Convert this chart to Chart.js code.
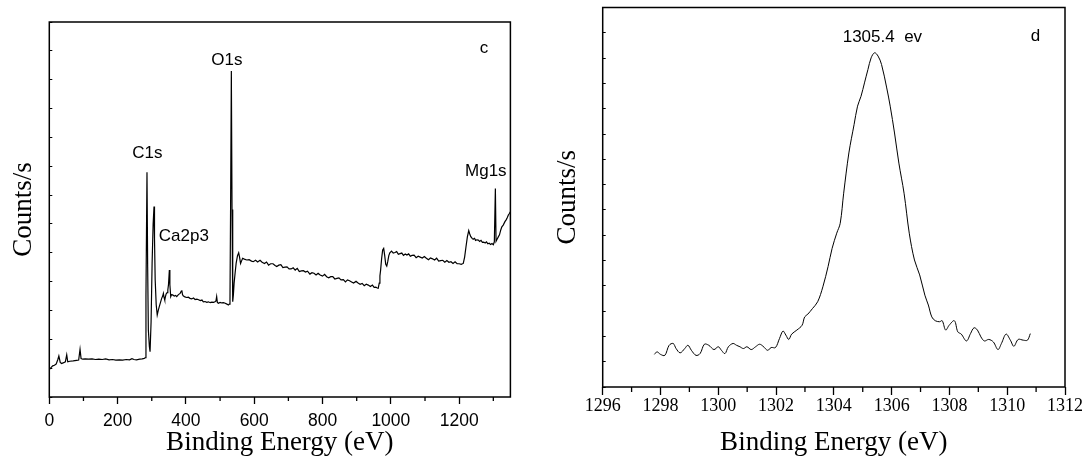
<!DOCTYPE html>
<html>
<head>
<meta charset="utf-8">
<script src="https://cdn.jsdelivr.net/npm/chart.js@4.4.1/dist/chart.umd.min.js"></script>
<style>
  html, body { margin: 0; padding: 0; background: #fff; }
  #wrap { position: relative; width: 1088px; height: 459px; overflow: hidden; }
  .panel { position: absolute; top: 0; width: 544px; height: 459px; }
  #p1 { left: 0; }
  #p2 { left: 544px; }
</style>
</head>
<body>
<div id="wrap">
  <div class="panel" id="p1"><canvas id="c1" width="544" height="459"></canvas></div>
  <div class="panel" id="p2"><canvas id="c2" width="544" height="459"></canvas></div>
</div>
<script>
// ---------- Panel c : survey spectrum ----------
const surveyEnergy = [
  0,5,10,15,20,25,28,32,36,42,47,51,54,60,70,80,86,90,93,98,
  105,115,125,135,145,155,165,175,185,195,205,215,225,235,242,248,255,265,272,278,
  281,283,286,288,290,293,295,298,301,304,306.6,308,310,313,316,319,322,326,329,332,
  334,336,338,340,342,345,347,349,351.5,353,355.5,358,361,366,370,373,378,383,386,388,
  390,392,397,402,407,412,417,422,427,432,437,442,447,451,456,461,466,471,476,481,
  485,488,490,492,495,500,505,510,515,520,524,527,529,531,533,535,537,539,541,544,
  547,551,554.5,557,560,563,566,571,578,585,592,597,604,610,617,623,630,636,642,648,
  655,661,666,672,678,684,690,696,702,708,714,720,726,732,738,744,750,756,763,769,
  775,781,787,793,800,806,812,818,824,830,836,842,848,854,861,867,873,879,885,891,
  898,904,910,916,922,928,934,940,946,951,956,960,963,966,968,970,973,976,979,982,
  985,988,991,994,997,1002,1007,1012,1017,1022,1027,1032,1037,1042,1047,1052,1057,1062,1068,1074,
  1080,1086,1092,1098,1104,1110,1116,1122,1128,1134,1140,1146,1152,1158,1164,1170,1176,1182,1188,1194,
  1200,1206,1212,1216,1220,1224,1228,1231,1234,1238,1241,1245,1248,1252,1256,1260,1264,1268,1272,1276,
  1280,1284,1288,1292,1296,1300,1303,1306,1308,1311,1315,1318,1322,1325,1329,1334,1338,1341,1344,1347,
  1350
];
const surveyCounts = [
  0.95,1.02,1.08,1.10,1.14,1.30,1.42,1.20,1.16,1.19,1.22,1.46,1.22,1.24,1.25,1.27,1.28,1.65,1.33,1.31,
  1.32,1.31,1.32,1.30,1.31,1.30,1.32,1.29,1.30,1.28,1.29,1.28,1.30,1.29,1.33,1.30,1.29,1.31,1.32,1.34,
  1.36,3.50,7.79,4.50,2.32,1.75,1.57,2.60,4.64,6.00,6.60,5.50,4.06,3.20,2.84,3.00,3.13,3.30,3.42,3.50,
  3.59,3.45,3.36,3.48,3.57,3.62,3.71,3.90,4.40,3.90,3.48,3.55,3.54,3.50,3.52,3.48,3.55,3.59,3.66,3.70,
  3.55,3.51,3.47,3.45,3.46,3.42,3.40,3.43,3.38,3.39,3.37,3.34,3.36,3.30,3.31,3.28,3.30,3.27,3.29,3.28,
  3.30,3.33,3.48,3.28,3.25,3.28,3.26,3.27,3.25,3.22,3.19,3.22,3.36,7.00,11.30,6.50,3.30,3.55,3.94,4.30,
  4.63,4.90,5.00,4.85,4.63,4.72,4.81,4.78,4.75,4.76,4.71,4.69,4.74,4.68,4.74,4.67,4.63,4.68,4.57,4.62,
  4.62,4.56,4.52,4.57,4.59,4.49,4.50,4.51,4.44,4.44,4.48,4.40,4.46,4.35,4.37,4.38,4.33,4.36,4.26,4.31,
  4.29,4.23,4.29,4.23,4.19,4.25,4.17,4.13,4.17,4.17,4.09,4.11,4.13,4.06,4.07,3.99,4.06,4.03,3.99,3.95,
  4.01,3.95,3.91,3.94,3.86,3.91,3.88,3.83,3.88,3.80,3.81,3.78,3.77,3.95,4.20,4.40,4.80,5.10,5.15,4.90,
  4.60,4.54,4.70,4.90,5.00,5.06,4.99,5.01,5.04,4.95,4.97,4.99,4.91,4.96,4.92,4.96,4.88,4.91,4.92,4.83,
  4.88,4.85,4.82,4.87,4.81,4.76,4.82,4.79,4.75,4.81,4.71,4.73,4.74,4.67,4.73,4.67,4.69,4.63,4.69,4.62,
  4.62,4.60,4.63,4.85,5.21,5.55,5.77,5.65,5.56,5.50,5.47,5.50,5.43,5.45,5.44,5.39,5.43,5.36,5.37,5.34,
  5.38,5.31,5.33,5.29,5.32,5.28,5.38,7.23,5.40,5.47,5.56,5.62,5.80,5.90,5.96,6.08,6.15,6.22,6.31,6.36,
  6.42
];
const surveyTickStep = 200;
const surveyMinorTicks = [100,300,500,700,900,1100,1300];
const surveyLabels = ['C1s','O1s','Ca2p3','Mg1s','c'];
const surveyLabelX = [287, 520, 394, 1278, 1273];
const surveyLabelY = [8.45, 11.66, 5.57, 7.84, 12.09];

// ---------- Panel d : Mg1s region ----------
const mgEnergy = [
  1297.79,1297.88,1298.00,1298.15,1298.30,1298.44,1298.54,1298.68,1298.84,1298.95,
  1299.07,1299.23,1299.37,1299.52,1299.67,1299.85,1300.00,1300.11,1300.23,1300.35,
  1300.51,1300.63,1300.75,1300.87,1300.99,1301.14,1301.29,1301.43,1301.55,1301.71,
  1301.83,1301.98,1302.12,1302.24,1302.34,1302.44,1302.54,1302.72,1302.90,1302.99,
  1303.10,1303.26,1303.44,1303.62,1303.80,1303.94,1304.10,1304.22,1304.34,1304.52,
  1304.70,1304.82,1304.94,1305.06,1305.18,1305.29,1305.41,1305.53,1305.65,1305.83,
  1305.95,1306.10,1306.25,1306.43,1306.61,1306.79,1306.97,1307.15,1307.27,1307.39,
  1307.51,1307.66,1307.75,1307.87,1307.99,1308.17,1308.29,1308.41,1308.59,1308.73,
  1308.85,1308.97,1309.09,1309.21,1309.36,1309.52,1309.68,1309.80,1309.96,1310.11,
  1310.23,1310.38,1310.56,1310.70,1310.80
];
const mgCounts = [
  1.29,1.39,1.29,1.25,1.65,1.72,1.52,1.35,1.52,1.65,
  1.45,1.25,1.32,1.69,1.65,1.48,1.59,1.45,1.32,1.59,
  1.72,1.65,1.59,1.52,1.59,1.48,1.59,1.69,1.61,1.45,
  1.56,1.56,1.92,2.21,2.05,1.88,2.09,2.25,2.44,2.77,
  2.88,3.10,3.37,3.96,4.76,5.48,6.08,6.47,7.66,9.25,
  10.37,11.10,11.49,12.02,12.55,13.01,13.21,13.08,12.75,11.82,
  11.10,10.04,8.85,7.66,6.08,5.02,4.43,3.63,3.24,2.77,
  2.62,2.58,2.62,2.25,2.44,2.62,2.18,2.09,1.82,2.11,
  2.34,2.25,1.98,1.82,1.88,1.78,1.48,1.72,2.09,1.85,
  1.61,1.88,1.85,1.85,2.11
];
const mgTickStep = 2;
const mgMinorTicks = [1297,1299,1301,1303,1305,1307,1309,1311];
const mgLabels = ['1305.4  ev','d'];
const mgLabelX = [1305.68, 1310.98];
const mgLabelY = [13.83, 13.87];

// ---------- helpers ----------
const SANS = '"Liberation Sans", Arial, sans-serif';
const SERIF = '"Liberation Serif", "Times New Roman", serif';

function framePlugin(minorTicks, minorLen, labels, lx, ly, labelFont) {
  return {
    id: 'frame',
    afterDraw(chart) {
      const {ctx, chartArea: a, scales} = chart;
      ctx.save();
      ctx.strokeStyle = '#000';
      ctx.lineWidth = 1.5;
      ctx.strokeRect(a.left, a.top, a.right - a.left, a.bottom - a.top);
      ctx.lineWidth = 1.3;
      ctx.beginPath();
      minorTicks.forEach(v => {
        const px = scales.x.getPixelForValue(v);
        ctx.moveTo(px, a.bottom);
        ctx.lineTo(px, a.bottom + minorLen);
      });
      ctx.stroke();
      ctx.fillStyle = '#000';
      ctx.font = labelFont;
      ctx.textAlign = 'center';
      ctx.textBaseline = 'middle';
      labels.forEach((t, i) => {
        ctx.fillText(t, scales.x.getPixelForValue(lx[i]), scales.y.getPixelForValue(ly[i]));
      });
      ctx.restore();
    }
  };
}

function makeChart(id, cfg) {
  const pts = cfg.xs.map((x, i) => ({x, y: cfg.ys[i]}));
  return new Chart(document.getElementById(id), {
    type: 'line',
    data: { datasets: [{
      data: pts, borderColor: '#000', borderWidth: cfg.lineWidth,
      pointRadius: 0, tension: cfg.tension, fill: false
    }]},
    options: {
      responsive: false, animation: false, events: [],
      layout: { padding: cfg.padding },
      plugins: { legend: { display: false }, tooltip: { enabled: false } },
      scales: {
        x: {
          type: 'linear', position: 'bottom', min: cfg.xmin, max: cfg.xmax,
          afterFit(s) { s.height = cfg.xAxisH; },
          border: { display: false },
          grid: { drawOnChartArea: false, drawTicks: true, tickLength: cfg.majorLen,
                  tickColor: '#000', tickWidth: 1.3 },
          ticks: { stepSize: cfg.step, includeBounds: false, color: '#000',
                   padding: cfg.tickPad, maxRotation: 0, autoSkip: false,
                   callback: v => String(v),
                   font: { family: cfg.tickFamily, size: cfg.tickSize } },
          title: { display: true, text: 'Binding Energy (eV)', color: '#000',
                   padding: { top: 0, bottom: cfg.xTitlePad },
                   font: { family: SERIF, size: 27, lineHeight: 1.2 } }
        },
        y: {
          type: 'linear', position: 'left', min: 0, max: cfg.ymax,
          afterFit(s) { s.width = cfg.yAxisW; },
          border: { display: false },
          grid: { drawOnChartArea: false, drawTicks: true, tickLength: -3,
                  tickColor: '#000', tickWidth: 1 },
          ticks: { display: false, stepSize: 1 },
          title: { display: true, text: 'Counts/s', color: '#000',
                   padding: { top: 7.3, bottom: 0 },
                   font: { family: SERIF, size: 27, lineHeight: 1.2 } }
        }
      }
    },
    plugins: [framePlugin(cfg.minor, cfg.minorLen, cfg.labels, cfg.lx, cfg.ly, cfg.labelFont)]
  });
}

makeChart('c1', {
  xs: surveyEnergy, ys: surveyCounts, lineWidth: 1.2, tension: 0,
  xmin: 0, xmax: 1350, ymax: 13, step: surveyTickStep,
  padding: { left: 0, right: 33.6, top: 22, bottom: 0 },
  xAxisH: 62, yAxisW: 49.3, majorLen: 7, minorLen: 4, tickPad: 7,
  tickFamily: SANS, tickSize: 17.5, xTitlePad: 0,
  minor: surveyMinorTicks, labels: surveyLabels, lx: surveyLabelX, ly: surveyLabelY,
  labelFont: '17px ' + SANS
});

makeChart('c2', {
  xs: mgEnergy, ys: mgCounts, lineWidth: 1.0, tension: 0.35,
  xmin: 1296, xmax: 1312, ymax: 15, step: mgTickStep,
  padding: { left: 0, right: 23, top: 7.5, bottom: 0 },
  xAxisH: 72, yAxisW: 58.7, majorLen: 8, minorLen: 5, tickPad: 0,
  tickFamily: SERIF, tickSize: 18, xTitlePad: 0,
  minor: mgMinorTicks, labels: mgLabels, lx: mgLabelX, ly: mgLabelY,
  labelFont: '17px ' + SANS
});
</script>
</body>
</html>
